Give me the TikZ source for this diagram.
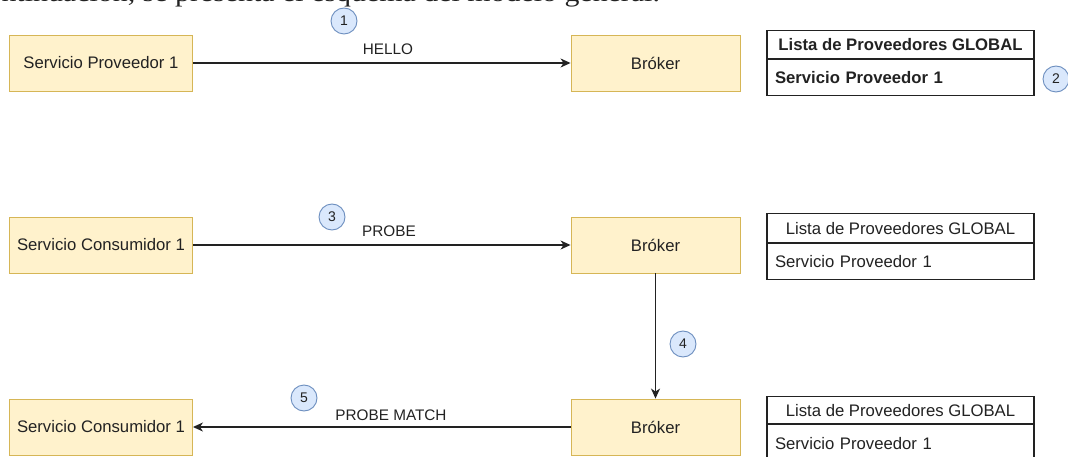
\documentclass[tikz,border=0pt]{standalone}
\usepackage{fontspec}
\setmainfont{Liberation Sans}
\newfontfamily\docserif{Liberation Serif}
\usetikzlibrary{arrows.meta}
\definecolor{boxfill}{HTML}{FFF2CC}
\definecolor{boxline}{HTML}{D6B656}
\definecolor{numfill}{HTML}{DAE8FC}
\definecolor{numline}{HTML}{6C8EBF}
\definecolor{ink}{HTML}{222222}
\tikzset{
  proc/.style={draw=boxline, fill=boxfill, line width=0.9pt, minimum height=56pt, inner sep=0pt, text=ink, font=\fontsize{16.7}{18}\selectfont},
  svc/.style={proc, minimum width=183pt},
  brk/.style={proc, minimum width=169pt},
  num/.style={circle, draw=numline, fill=numfill, line width=0.9pt, minimum size=26pt, inner sep=0pt, text=ink, font=\fontsize{14}{15}\selectfont},
  msg/.style={-{Stealth[length=10pt,width=9pt,inset=3pt]}, line width=1.3pt, draw=ink},
  lbl/.style={inner sep=0pt, text=ink, font=\fontsize{15.3}{16}\selectfont},
  tabhead/.style={draw=ink, line width=1.2pt, anchor=north, minimum width=267pt, inner sep=0pt, text=ink, font=\fontsize{16.7}{18}\selectfont},
  tabitem/.style={draw=ink, line width=1.2pt, anchor=north, minimum width=267pt, text width=251pt, inner xsep=8pt, inner ysep=0pt, align=left, text=ink, font=\fontsize{16.7}{18}\selectfont}
}
\begin{document}
\begin{tikzpicture}[x=1pt, y=-1pt]
\useasboundingbox (0,0) rectangle (1068,457);
\clip (0,0) rectangle (1068,457);
\fill[white] (0,0) rectangle (1068,457);

% cut-off line of running text at the top
\node[anchor=base west, inner sep=0pt, xscale=1.15, font=\docserif\fontsize{26}{28}\selectfont, text=ink] (doc) at (-56,1.5) {A continuación, se presenta el esquema del modelo general.};

% row 1
\node[svc] (prov1) at (101,63) {Servicio Proveedor 1};
\node[brk] (brok1) at (655.5,63) {Bróker};
\draw[msg] (prov1) -- (brok1);
\node[lbl] (l1) at (388,49) {HELLO};
\node[num] (n1) at (344,21) {1};
\node[tabhead, minimum height=28pt, font=\bfseries\fontsize{16.7}{18}\selectfont] (t1h) at (900.5,30) {Lista de Proveedores GLOBAL};
\node[tabitem, minimum height=36pt, font=\bfseries\fontsize{16.7}{18}\selectfont] (t1i) at (t1h.south) {Servicio Proveedor 1};
\node[num] (n2) at (1056,79) {2};

% row 2
\node[svc] (cons2) at (101,245) {Servicio Consumidor 1};
\node[brk] (brok2) at (655.5,245) {Bróker};
\draw[msg] (cons2) -- (brok2);
\node[lbl] (l2) at (389,231) {PROBE};
\node[num] (n3) at (332,217) {3};
\node[tabhead, minimum height=29pt] (t2h) at (900.5,213) {Lista de Proveedores GLOBAL};
\node[tabitem, minimum height=36pt] (t2i) at (t2h.south) {Servicio Proveedor 1};

% row 3
\node[svc] (cons3) at (101,427) {Servicio Consumidor 1};
\node[brk] (brok3) at (655.5,427) {Bróker};
\draw[msg] (brok2) -- (brok3);
\node[num] (n4) at (683,344) {4};
\draw[msg] (brok3) -- (cons3);
\node[lbl] (l3) at (391,415) {PROBE MATCH};
\node[num] (n5) at (304,398) {5};
\node[tabhead, minimum height=27pt] (t3h) at (900.5,396) {Lista de Proveedores GLOBAL};
\node[tabitem, minimum height=38pt] (t3i) at (t3h.south) {Servicio Proveedor 1};
\end{tikzpicture}
\end{document}
